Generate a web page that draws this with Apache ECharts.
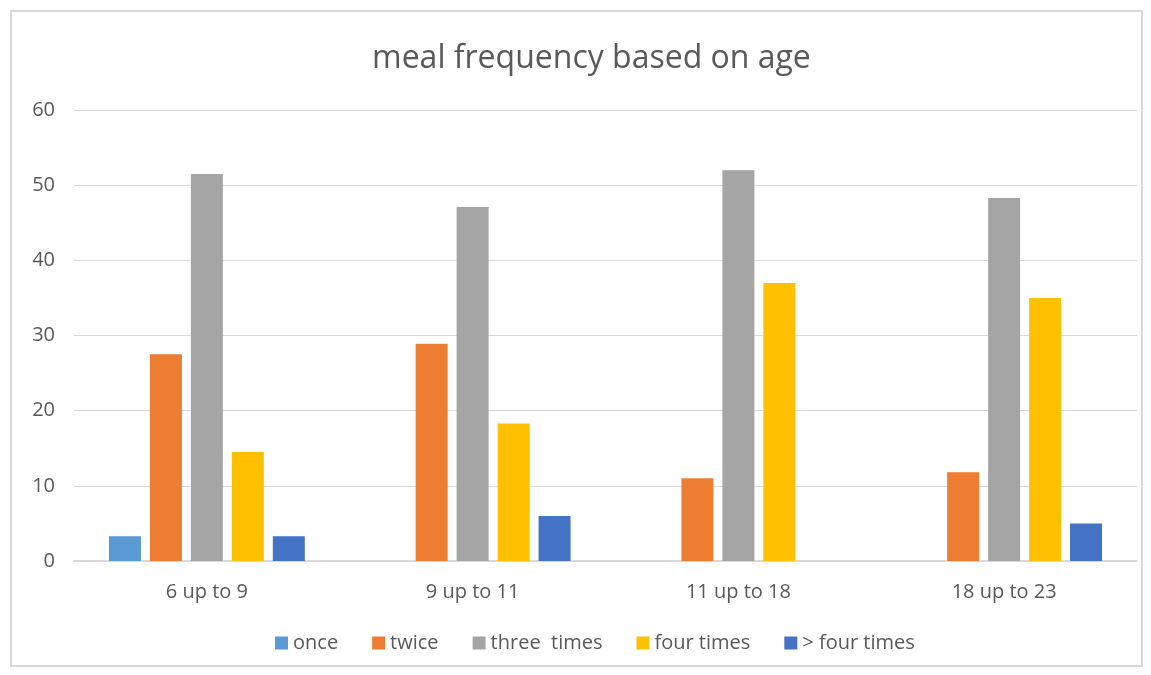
<!DOCTYPE html>
<html>
<head>
<meta charset="utf-8">
<script src="https://cdn.jsdelivr.net/npm/echarts@6/dist/echarts.min.js"></script>
<style>
html,body{margin:0;padding:0;background:#fff;}
#frame{position:absolute;left:10px;top:10px;width:1133px;height:657px;border:2px solid #d9d9d9;box-sizing:border-box;}
#chart{position:absolute;left:0;top:0;width:1151px;height:675px;}
</style>
</head>
<body>
<div id="frame"></div>
<div id="chart"></div>
<script>
const categories = ["6 up to 9", "9 up to 11", "11 up to 18", "18 up to 23"];
const seriesNames = ["once", "twice", "three  times", "four times", "> four times"];
const onceValues = [3.3, 0, 0, 0];
const twiceValues = [27.5, 28.9, 11.0, 11.8];
const threeValues = [51.5, 47.1, 52.0, 48.3];
const fourValues = [14.5, 18.3, 37.0, 35.0];
const moreValues = [3.3, 6.0, 0, 5.0];
const yTicks = [0, 10, 20, 30, 40, 50, 60];
const colors = ["#5B9BD5", "#ED7D31", "#A5A5A5", "#FFC000", "#4472C4"];

const allValues = [onceValues, twiceValues, threeValues, fourValues, moreValues];
const font = "'Open Sans', 'Liberation Sans', sans-serif";

const chart = echarts.init(document.getElementById('chart'), null, {renderer: 'canvas'});
chart.setOption({
  animation: false,
  color: colors,
  title: {
    text: 'meal frequency based on age',
    left: 367,
    top: 38,
    textStyle: {fontFamily: font, fontSize: 32, fontWeight: 'normal', color: '#595959'}
  },
  grid: {left: 74, right: 14, top: 110, bottom: 114, containLabel: false},
  legend: {
    bottom: 17,
    left: 270,
    itemWidth: 13,
    itemHeight: 13,
    itemGap: 34,
    icon: 'rect',
    textStyle: {fontFamily: font, fontSize: 20, color: '#595959'},
    data: seriesNames
  },
  xAxis: {
    type: 'category',
    data: categories,
    axisLine: {show: true, lineStyle: {color: '#d9d9d9', width: 2}},
    axisTick: {show: false},
    axisLabel: {fontFamily: font, fontSize: 20, color: '#595959', margin: 21}
  },
  yAxis: {
    type: 'value',
    min: yTicks[0],
    max: yTicks[yTicks.length - 1],
    interval: 10,
    axisLine: {show: false},
    axisTick: {show: false},
    axisLabel: {fontFamily: font, fontSize: 20, color: '#595959', margin: 19},
    splitLine: {lineStyle: {color: '#d9d9d9', width: 1}}
  },
  series: seriesNames.map((n, i) => ({
    name: n,
    type: 'bar',
    data: allValues[i],
    barWidth: 32,
    barGap: '28%',
    itemStyle: {color: colors[i]}
  }))
});
</script>
</body>
</html>
